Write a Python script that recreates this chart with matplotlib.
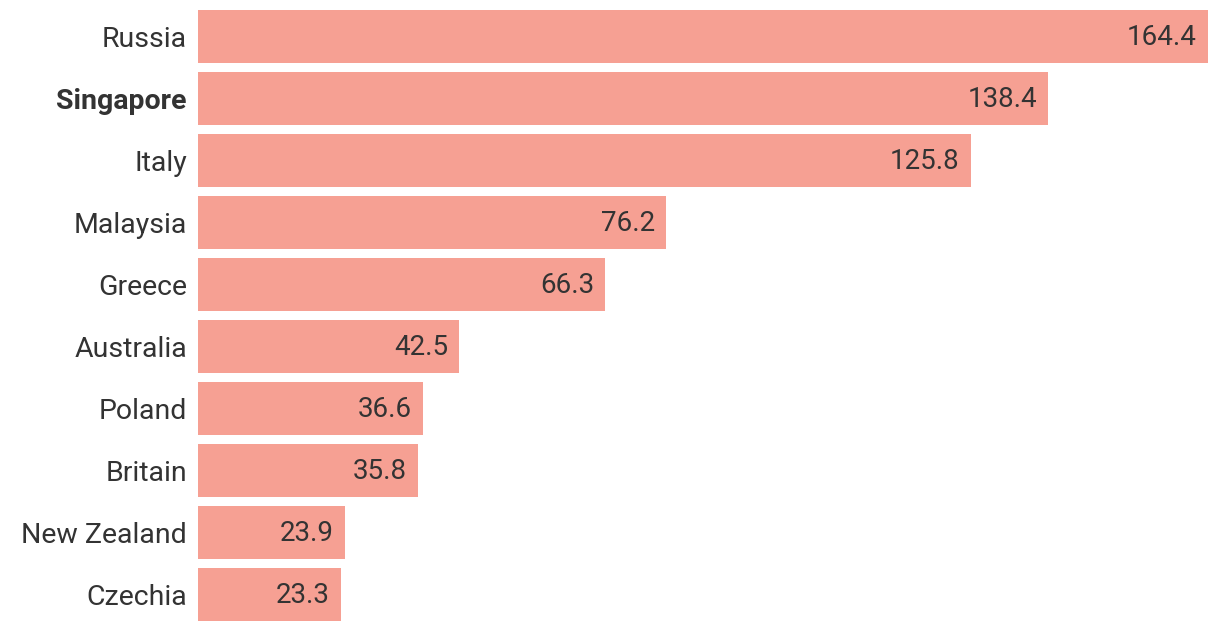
import matplotlib.pyplot as plt

countries = ["Russia", "Singapore", "Italy", "Malaysia", "Greece",
             "Australia", "Poland", "Britain", "New Zealand", "Czechia"]
values = [164.4, 138.4, 125.8, 76.2, 66.3, 42.5, 36.6, 35.8, 23.9, 23.3]
highlight = "Singapore"

plt.rcParams['font.family'] = ['Roboto', 'DejaVu Sans']

bar_color = "#F6A093"
text_color = "#333333"

fig = plt.figure(figsize=(12.2, 6.32), dpi=100)
ax = fig.add_axes([198/1220, 1 - 621/632, 1010/1220, 611/632])

ypos = list(range(len(countries)))
bar_h = 0.855
ax.barh(ypos, values, height=bar_h, color=bar_color)

for y, v in zip(ypos, values):
    ax.annotate("%.1f" % v, xy=(v, y), xytext=(-8, -1), textcoords="offset points",
                ha="right", va="center", fontsize=20, color=text_color)

ax.set_xlim(0, max(values))
ax.set_ylim(len(countries) - 1 + bar_h/2, -bar_h/2)
ax.set_yticks(ypos)
ax.set_yticklabels(countries, fontsize=20.5, color=text_color)
for lab in ax.get_yticklabels():
    if lab.get_text() == highlight:
        lab.set_fontweight("bold")
ax.tick_params(axis="y", length=0, pad=8)
ax.set_xticks([])
for s in ax.spines.values():
    s.set_visible(False)

fig.savefig("out.png", dpi=100)
